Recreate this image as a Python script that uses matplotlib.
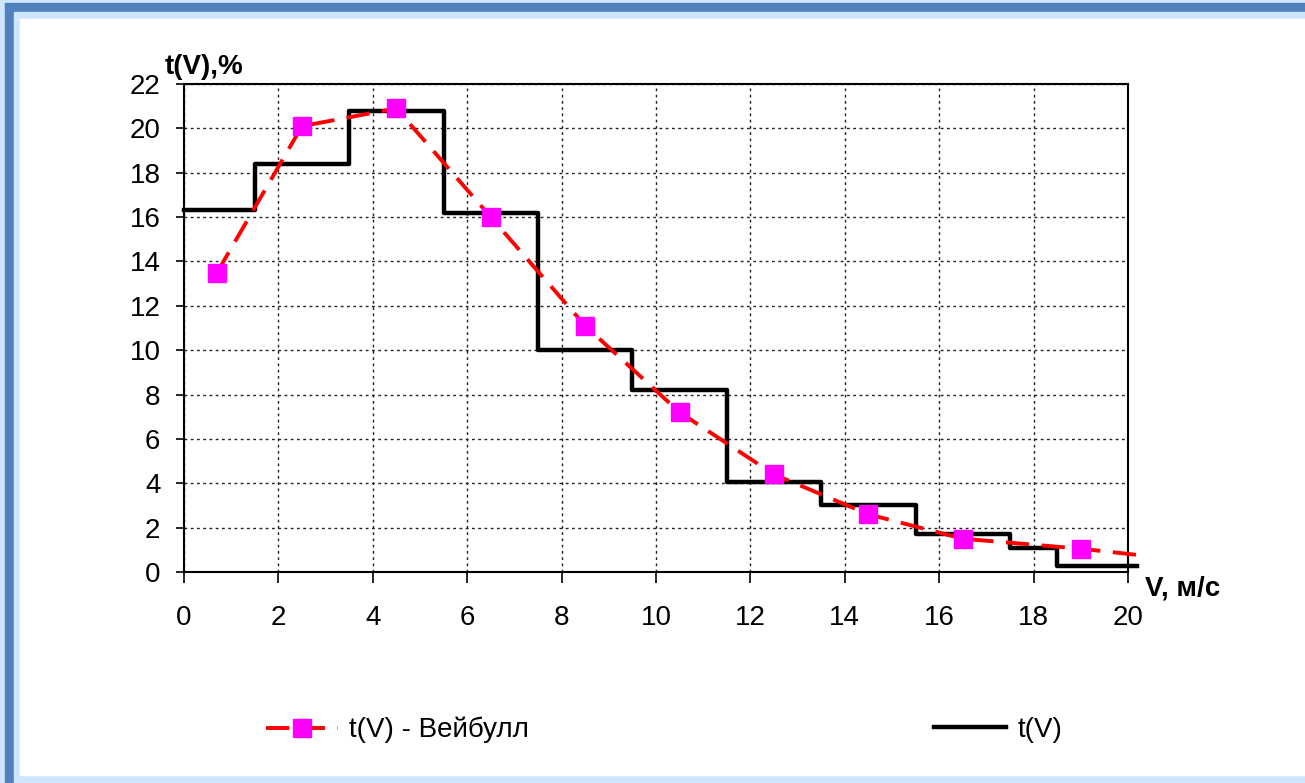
import matplotlib
matplotlib.use("Agg")
import matplotlib.pyplot as plt
from matplotlib.patches import Rectangle

plt.rcParams['font.family'] = ['Liberation Sans', 'DejaVu Sans']

# step histogram t(V): bin edges and levels, %
edges = [0, 1.5, 3.5, 5.5, 7.5, 9.5, 11.5, 13.5, 15.5, 17.5, 18.5, 20.2]
levels = [16.3, 18.4, 20.8, 16.2, 10.0, 8.2, 4.05, 3.0, 1.7, 1.1, 0.25]

# Weibull curve points (last point has no marker)
wv = [0.7, 2.5, 4.5, 6.5, 8.5, 10.5, 12.5, 14.5, 16.5, 19.0, 20.2]
wt = [13.5, 20.1, 20.9, 16.0, 11.1, 7.2, 4.4, 2.6, 1.5, 1.05, 0.77]

xticks = list(range(0, 21, 2))
yticks = list(range(0, 23, 2))

W, H = 1305, 783
fig = plt.figure(figsize=(W / 100, H / 100), dpi=100)

# blue frame around the picture
dark = '#4f81bd'
light = '#cfe5fd'
frame = [
    ((0, 0), 1, 1, light),
    ((5 / W, 0), 1, (H - 3) / H, dark),
    ((14 / W, 1 / H), 1, (H - 13) / H, light),
    ((20 / W, 8 / H), 1, (H - 27) / H, 'white'),
]
for xy, w, h, c in frame:
    fig.patches.append(Rectangle(xy, w, h, transform=fig.transFigure, color=c, zorder=-10))

ax = fig.add_axes([184 / W, 1 - 572 / H, (1128 - 184) / W, (572 - 84) / H])
ax.set_facecolor('none')

ys = levels + [levels[-1]]
step_line, = ax.step(edges, ys, where='post', color='black', lw=3.2, zorder=3,
                     clip_on=False, label='t(V)')
ax.plot(wv, wt, color='#ff0000', lw=2.8, dashes=(6, 3.2), zorder=4, clip_on=False)
ax.plot(wv[:-1], wt[:-1], linestyle='none', marker='s', markersize=13,
        markerfacecolor='#ff00ff', markeredgecolor='#ff00ff', zorder=5, clip_on=False)

# legend handle for the Weibull curve
weib_handle, = ax.plot([], [], color='#ff0000', lw=2.8, dashes=(6, 3.2), marker='s',
                       markersize=13, markerfacecolor='#ff00ff', markeredgecolor='#ff00ff',
                       label='t(V) - Вейбулл')

ax.set_xlim(0, 20)
ax.set_ylim(0, 22)
ax.set_xticks(xticks)
ax.set_yticks(yticks)
ax.tick_params(axis='both', labelsize=20, direction='out', width=1.2, colors='black')
ax.tick_params(axis='x', length=8, pad=16)
ax.tick_params(axis='y', length=6, pad=11)
ax.grid(True, color='#222222', lw=1.0, linestyle=(0, (2, 2.5)))
for s in ax.spines.values():
    s.set_linewidth(1.5)
    s.set_color('black')

fig.text(165 / W, 1 - 80 / H, 't(V),%', fontsize=20, fontweight='bold', va='bottom', ha='left')
fig.text(1145 / W, 1 - 588 / H, 'V, м/с', fontsize=20, fontweight='bold', va='center', ha='left')

fig.legend(handles=[weib_handle], loc='center left', bbox_to_anchor=(266 / W, 1 - 730 / H),
           frameon=False, fontsize=20, handlelength=2.6, handletextpad=0.4,
           borderaxespad=0, borderpad=0)
fig.legend(handles=[step_line], loc='center left', bbox_to_anchor=(934 / W, 1 - 730 / H),
           frameon=False, fontsize=20, handlelength=2.6, handletextpad=0.4,
           borderaxespad=0, borderpad=0)

fig.savefig('out.png', dpi=100)
